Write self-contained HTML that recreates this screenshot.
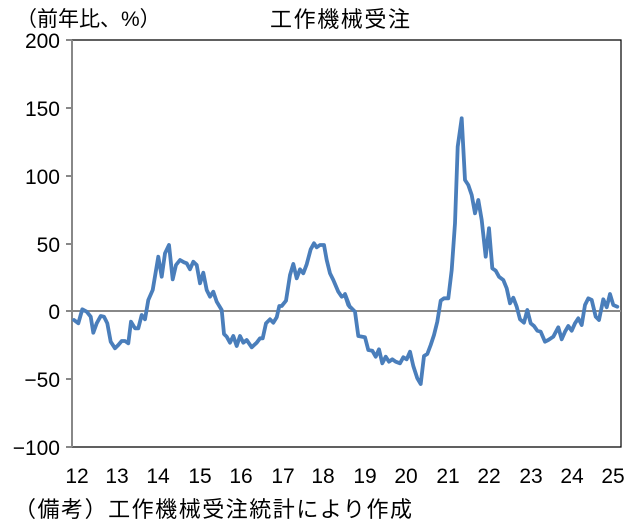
<!DOCTYPE html>
<html><head><meta charset="utf-8"><style>
body{margin:0;background:#fff;}
svg text{font-family:"Liberation Sans","Noto Sans CJK JP",sans-serif;fill:#000;}
</style></head><body>
<svg id="s" width="631" height="521" viewBox="0 0 631 521" xmlns="http://www.w3.org/2000/svg">
<rect x="0" y="0" width="631" height="521" fill="#fff"/>
<polyline points="72,40 621,40 621,447 72,447" fill="none" stroke="#000" stroke-width="1.2"/>
<line x1="72" y1="40" x2="72" y2="447" stroke="#888" stroke-width="2"/>
<line x1="72" y1="311" x2="621" y2="311" stroke="#888" stroke-width="2"/>
<g stroke="#888" stroke-width="2">
<line x1="66" y1="40" x2="72" y2="40"/><line x1="66" y1="108" x2="72" y2="108"/>
<line x1="66" y1="176" x2="72" y2="176"/><line x1="66" y1="244" x2="72" y2="244"/>
<line x1="66" y1="311" x2="72" y2="311"/><line x1="66" y1="379" x2="72" y2="379"/>
<line x1="66" y1="447" x2="72" y2="447"/>
</g>
<g font-size="21" text-anchor="end">
<text x="60" y="48">200</text><text x="60" y="116">150</text><text x="60" y="184">100</text>
<text x="60" y="252">50</text><text x="60" y="319">0</text><text x="60" y="387">−50</text>
<text x="60" y="455">−100</text>
</g>
<g font-size="21" text-anchor="middle" id="xl"></g>
<text x="16" y="26" font-size="21">（前年比、%）</text>
<text x="270" y="27" font-size="22" textLength="140" lengthAdjust="spacing">工作機械受注</text>
<text x="14" y="517" font-size="22" textLength="398" lengthAdjust="spacing">（備考）工作機械受注統計により作成</text>
<polyline id="ln" fill="none" stroke="#4a7ebb" stroke-width="3.8" stroke-linejoin="round" stroke-linecap="round"/>
</svg>
<script>
var a=[[42,270],[55,280],[67,238],[80,245],[92,260],[100,308],[110,280],[122,258],[132,260],[142,280],[152,335],[165,355],[175,345],[185,333],[195,333],[205,340],[213,275],[225,295],[235,295],[245,255],[255,268],[265,210],[278,180],[295,80],[305,140],[315,70],[327,45],[338,148],[348,105],[360,90],[372,97],[380,100],[390,118],[400,95],[410,105],[420,160],[430,128],[440,180],[450,200],[460,185],[470,215],[485,240],[492,312],[500,320],[510,338],[520,318],[530,348],[540,318],[550,338],[560,330],[575,352],[590,338],[600,325],[608,325],[618,280],[630,268],[640,278],[650,262],[658,228],[665,228],[678,212],[690,135],[700,102],[710,145],[720,118],[730,130],[740,103],[752,58],[762,40],[770,52],[780,45],[792,45],[800,90],[810,130],[820,150],[835,185],[845,200],[855,195],[865,225],[870,232]];
var b=[[15,552],[25,585],[45,605],[55,678],[75,682],[85,720],[97,722],[107,740],[117,718],[127,760],[137,740],[147,755],[157,748],[167,755],[180,760],[190,742],[200,748],[210,725],[220,768],[232,805],[242,822],[252,738],[262,732],[272,705],[282,675],[292,635],[302,572],[312,565],[325,565],[335,480],[345,340],[353,110],[365,25],[375,210],[385,225],[395,255],[405,310],[415,270],[425,330],[437,440],[447,355],[457,475],[467,482],[477,500],[490,510],[500,535],[510,580],[520,563],[530,590],[540,628],[552,638],[562,600],[572,640],[582,648],[592,662],[602,665],[615,695],[625,690],[640,680],[655,652],[665,688],[675,665],[685,648],[695,662],[705,640],[715,625],[725,645],[735,585],[745,565],[755,570],[767,620],[777,630],[790,568],[800,592],[810,552],[820,585],[832,590]];
var p=[];
a.forEach(function(q){p.push((60+q[0]/3).toFixed(1)+","+(230+q[1]/3).toFixed(1));});
b.forEach(function(q){p.push((340+q[0]/3).toFixed(1)+","+(110+q[1]/3).toFixed(1));});
document.getElementById("ln").setAttribute("points",p.join(" "));
var xs=[77,117,158,200,241,283,323,365,406,448,489,531,572,613],g=document.getElementById("xl");
xs.forEach(function(x,i){var t=document.createElementNS("http://www.w3.org/2000/svg","text");t.setAttribute("x",x);t.setAttribute("y",483);t.textContent=String(12+i);g.appendChild(t);});
</script>
</body></html>
